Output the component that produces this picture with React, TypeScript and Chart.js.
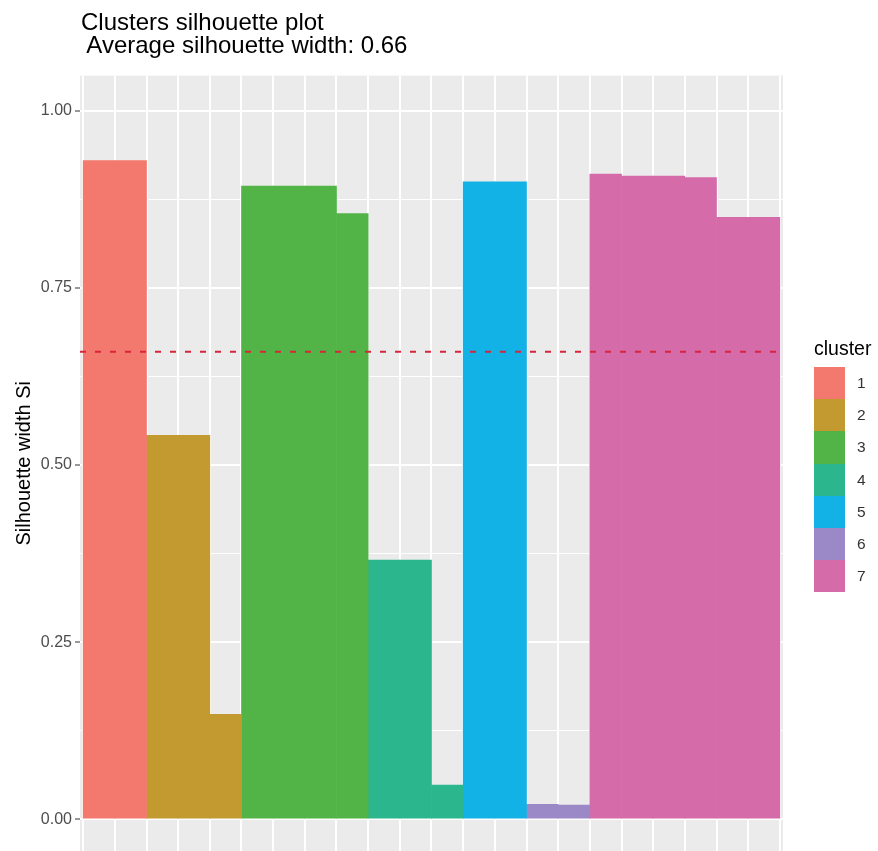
import React, { useEffect, useRef } from "react";
import { Chart, registerables } from "chart.js";

Chart.register(...registerables);

// ---- data ----
const clusterNames = ["1", "2", "3", "4", "5", "6", "7"];
const cluster1 = [0.93, 0.93];
const cluster2 = [0.542, 0.542, 0.148];
const cluster3 = [0.894, 0.894, 0.894, 0.855];
const cluster4 = [0.366, 0.366, 0.048];
const cluster5 = [0.9, 0.9];
const cluster6 = [0.021, 0.02];
const cluster7 = [0.911, 0.908, 0.908, 0.906, 0.85, 0.85];
const clusterValues = [cluster1, cluster2, cluster3, cluster4, cluster5, cluster6, cluster7];
const clusterColors = ["#F3786D", "#C39A2F", "#52B447", "#2BB68E", "#12B2E6", "#9A89C6", "#D56BA8"];
const averageWidth = 0.66;
const yTickValues = [0, 0.125, 0.25, 0.375, 0.5, 0.625, 0.75, 0.875, 1];
const yMajorTicks = [0, 0.25, 0.5, 0.75, 1];
const titleLines = ["Clusters silhouette plot", " Average silhouette width: 0.66"];
const yAxisTitle = "Silhouette width Si";
const legendTitle = "cluster";

const FONT = "'Liberation Sans', Arial, sans-serif";

export default function App() {
  const canvasRef = useRef<HTMLCanvasElement | null>(null);

  useEffect(() => {
    const canvas = canvasRef.current;
    if (!canvas) return;

    let idx = 0;
    const datasets: any[] = clusterValues.map((vals, c) => {
      const data = vals.map((v) => {
        idx += 1;
        return { x: idx, y: v };
      });
      return {
        type: "bar",
        label: clusterNames[c],
        data,
        backgroundColor: clusterColors[c],
        borderWidth: 0,
        barPercentage: 1,
        categoryPercentage: 1,
        grouped: false,
        order: 1,
      };
    });
    const n = idx;
    const xMin = 1 - 0.6;
    const xMax = n + 0.6;

    datasets.push({
      type: "line",
      label: "average",
      data: [
        { x: xMin, y: averageWidth },
        { x: xMax, y: averageWidth },
      ],
      borderColor: "#D8253A",
      borderWidth: 2,
      borderDash: [6, 9],
      pointRadius: 0,
      fill: false,
      order: 0,
    });

    const panelBg = {
      id: "panelBg",
      beforeDraw(chart: any) {
        const { ctx, chartArea } = chart;
        ctx.save();
        ctx.fillStyle = "#EBEBEB";
        ctx.fillRect(chartArea.left, chartArea.top, chartArea.right - chartArea.left, chartArea.bottom - chartArea.top);
        ctx.restore();
      },
    };

    const isMajor = (v: number) => yMajorTicks.some((m) => Math.abs(m - v) < 1e-9);

    const chart = new Chart(canvas, {
      type: "bar",
      data: { datasets },
      options: {
        animation: false,
        responsive: false,
        layout: { padding: { top: 75.6, right: 95, bottom: 0, left: 0 } },
        plugins: {
          legend: { display: false },
          tooltip: { enabled: false },
        },
        scales: {
          x: {
            type: "linear",
            min: xMin,
            max: xMax,
            offset: false,
            afterBuildTicks: (scale: any) => {
              const t = [];
              for (let i = 1; i <= n; i++) t.push({ value: i });
              scale.ticks = t;
            },
            afterFit: (scale: any) => {
              scale.height = 0;
              scale.paddingLeft = 0;
              scale.paddingRight = 0;
            },
            ticks: { display: false },
            grid: { color: "#FFFFFF", lineWidth: 2, drawTicks: false },
            border: { display: false },
          },
          y: {
            type: "linear",
            min: -0.045,
            max: 1.05,
            afterBuildTicks: (scale: any) => {
              scale.ticks = yTickValues.map((v) => ({ value: v }));
            },
            afterFit: (scale: any) => {
              scale.width = 80;
              scale.paddingTop = 0;
              scale.paddingBottom = 0;
            },
            ticks: {
              padding: 3,
              color: "#4D4D4D",
              font: { family: FONT, size: 16 },
              callback: (v: any) => (isMajor(Number(v)) ? Number(v).toFixed(2) : ""),
            },
            grid: {
              color: "#FFFFFF",
              lineWidth: (ctx: any) => (isMajor(ctx.tick ? ctx.tick.value : 0) ? 2 : 1),
              tickLength: 5,
              tickColor: (ctx: any) => (isMajor(ctx.tick ? ctx.tick.value : 0) ? "#333333" : "rgba(0,0,0,0)"),
              tickWidth: 1,
            },
            border: { display: false },
            title: {
              display: true,
              text: yAxisTitle,
              color: "#000000",
              font: { family: FONT, size: 20 },
              padding: { top: 12, bottom: 0 },
            },
          },
        },
      },
      plugins: [panelBg],
    } as any);

    return () => chart.destroy();
  }, []);

  return (
    <div style={{ position: "absolute", left: 0, top: 0, width: 878, height: 851, background: "#FFFFFF", fontFamily: FONT }}>
      <canvas ref={canvasRef} width={878} height={851} style={{ position: "absolute", left: 0, top: 0, width: 878, height: 851 }} />
      <div style={{ position: "absolute", left: 81, top: 10, fontSize: 24, lineHeight: "23.3px", color: "#000", whiteSpace: "pre" }}>
        {titleLines.map((t, i) => (
          <div key={i}>{t}</div>
        ))}
      </div>
      <div style={{ position: "absolute", left: 814, top: 337, fontSize: 19.5, lineHeight: "22px", color: "#000" }}>{legendTitle}</div>
      <div style={{ position: "absolute", left: 814, top: 367 }}>
        {clusterNames.map((name, i) => (
          <div key={name} style={{ display: "flex", alignItems: "center", height: 32.2, width: 64 }}>
            <div style={{ width: 31, height: 32.2, background: clusterColors[i] }} />
            <div style={{ marginLeft: 12, fontSize: 15.5, lineHeight: "18px", color: "#333" }}>{name}</div>
          </div>
        ))}
      </div>
    </div>
  );
}
